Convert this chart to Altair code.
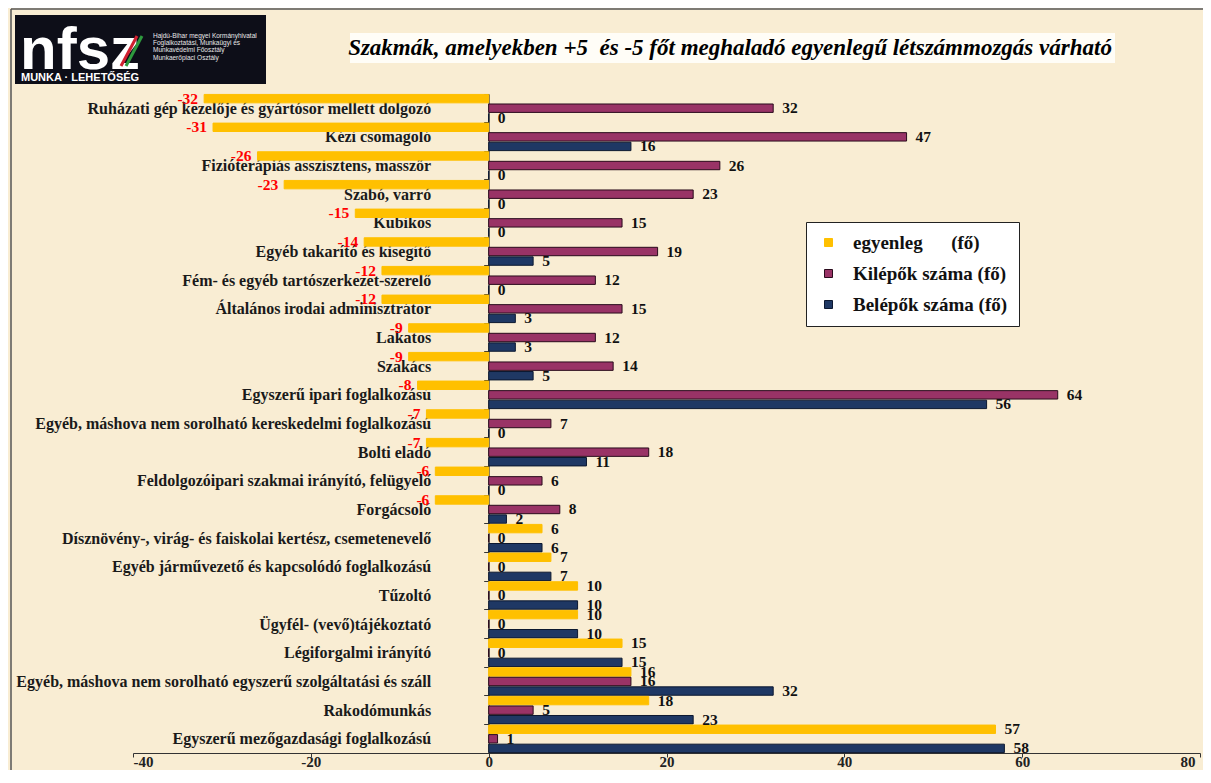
import altair as alt
import pandas as pd

categories = [
    "Ruházati gép kezelője és gyártósor mellett dolgozó",
    "Kézi csomagoló",
    "Fizióterápiás asszisztens, masszőr",
    "Szabó, varró",
    "Kubikos",
    "Egyéb takarító és kisegítő",
    "Fém- és egyéb tartószerkezet-szerelő",
    "Általános irodai adminisztrátor",
    "Lakatos",
    "Szakács",
    "Egyszerű ipari foglalkozású",
    "Egyéb, máshova nem sorolható kereskedelmi foglalkozású",
    "Bolti eladó",
    "Feldolgozóipari szakmai irányító, felügyelő",
    "Forgácsoló",
    "Dísznövény-, virág- és faiskolai kertész, csemetenevelő",
    "Egyéb járművezető és kapcsolódó foglalkozású",
    "Tűzoltó",
    "Ügyfél- (vevő)tájékoztató",
    "Légiforgalmi irányító",
    "Egyéb, máshova nem sorolható egyszerű szolgáltatási és száll",
    "Rakodómunkás",
    "Egyszerű mezőgazdasági foglalkozású",
]
egyenleg = [-32, -31, -26, -23, -15, -14, -12, -12, -9, -9, -8, -7, -7, -6, -6, 6, 7, 10, 10, 15, 16, 18, 57]
kilepok = [32, 47, 26, 23, 15, 19, 12, 15, 12, 14, 64, 7, 18, 6, 8, 0, 0, 0, 0, 0, 16, 5, 1]
belepok = [0, 16, 0, 0, 0, 5, 0, 3, 3, 5, 56, 0, 11, 0, 2, 6, 7, 10, 10, 15, 32, 23, 58]

series_names = ["egyenleg\u00a0\u00a0\u00a0\u00a0\u00a0\u00a0(fő)", "Kilépők száma (fő)", "Belépők száma (fő)"]
series_fill = ["#FFC000", "#993366", "#1F3864"]
series_stroke = ["#FFC000", "#2A0B1C", "#0C1830"]
x_ticks = [-40, -20, 0, 20, 40, 60, 80]

title_text = "Szakmák, amelyekben +5\u00a0 és -5 főt meghaladó egyenlegű létszámmozgás várható"
logo_big = "nfsz"
logo_sub = "MUNKA · LEHETŐSÉG"
logo_lines = ["Hajdú-Bihar megyei Kormányhivatal", "Foglalkoztatási, Munkaügyi és",
              "Munkavédelmi Főosztály", "Munkaerőpiaci Osztály"]

rows = []
for i, c in enumerate(categories):
    for s, vals in zip(series_names, [egyenleg, kilepok, belepok]):
        rows.append({"cat": c, "series": s, "value": vals[i], "label": str(vals[i])})
df = pd.DataFrame(rows)

W, H = 1067, 659
OX, OY = 133, 94  # page position of plot origin
ZERO_OFF = 40 / 120 * W

SERIF = "Liberation Serif"
SANS = "Liberation Sans"

xenc = alt.X("value:Q", scale=alt.Scale(domain=[-40, 80], nice=False, zero=False),
             axis=alt.Axis(title=None, values=x_ticks, labelExpr="'' + datum.value", grid=False,
                           domainColor="#333333", tickColor="#333333", tickSize=4,
                           labelPadding=9, labelBaseline="alphabetic",
                           labelOffset={"condition": {"test": "datum.value == 80", "value": -5}, "value": 0},
                           labelFont=SERIF, labelFontWeight="bold", labelFontSize=15, labelColor="#222222"))
yenc = alt.Y("cat:N", sort=categories, scale=alt.Scale(paddingInner=0.04, paddingOuter=0.015),
             axis=alt.Axis(title=None, offset=-ZERO_OFF, grid=False, domainColor="#333333",
                           tickColor="#333333", tickSize=5, tickBand="extent", labelPadding=53,
                           labelFont=SERIF, labelFontWeight="bold", labelFontSize=16,
                           labelColor="#1a1a1a", labelLimit=700))
yoff = alt.YOffset("series:N", sort=series_names, scale=alt.Scale(paddingInner=0.12))

leg = alt.Legend(title=None, orient="none", legendX=806 - OX, legendY=222 - OY,
                 fillColor="white", strokeColor="#222222", padding=11,
                 labelFont=SERIF, labelFontWeight="bold", labelFontSize=19, labelColor="#111111",
                 symbolType="square", symbolSize=64, symbolStrokeWidth=1, rowPadding=11,
                 symbolOffset=2, labelOffset=15, labelLimit=400)

base = alt.Chart(df)
bars = base.mark_bar(strokeWidth=1).encode(
    x=xenc, y=yenc, yOffset=yoff,
    color=alt.Color("series:N", sort=series_names,
                    scale=alt.Scale(domain=series_names, range=series_fill), legend=leg),
    stroke=alt.Stroke("series:N", sort=series_names,
                      scale=alt.Scale(domain=series_names, range=series_stroke), legend=leg),
)
neg_labels = base.transform_filter("datum.value < 0").mark_text(
    align="right", baseline="middle", dx=-6, color="#FF0000",
    font=SERIF, fontWeight="bold", fontSize=15.5).encode(x=xenc, y=yenc, yOffset=yoff, text="label:N")
pos_labels = base.transform_filter("datum.value >= 0").mark_text(
    align="left", baseline="middle", dx=9, color="#111111",
    font=SERIF, fontWeight="bold", fontSize=15.5).encode(x=xenc, y=yenc, yOffset=yoff, text="label:N")


def one(d):
    return alt.Chart(alt.Data(values=[d]))


def px(v):
    return v - OX


def py(v):
    return v - OY


frame_top = one({"a": 1}).mark_rule(color="#555555", strokeWidth=1.5).encode(
    x=alt.value(px(11)), x2=alt.value(px(1211)), y=alt.value(py(9)))
frame_left = one({"a": 1}).mark_rule(color="#555555", strokeWidth=1.5).encode(
    x=alt.value(px(11)), y=alt.value(py(9)), y2=alt.value(py(783)))

title_box = one({"a": 1}).mark_rect(color="#FFFDF7").encode(
    x=alt.value(px(350)), x2=alt.value(px(1115)), y=alt.value(py(33)), y2=alt.value(py(63)))
title = one({"t": title_text}).mark_text(
    font=SERIF, fontStyle="italic", fontWeight="bold", fontSize=23, color="#000000",
    align="center", baseline="middle").encode(x=alt.value(px(730)), y=alt.value(py(48)), text="t:N")

logo_box = one({"a": 1}).mark_rect(color="#0D0E18").encode(
    x=alt.value(px(15)), x2=alt.value(px(266)), y=alt.value(py(15)), y2=alt.value(py(84)))
logo_red = one({"a": 1}).mark_rule(color="#D02030", strokeWidth=3).encode(
    x=alt.value(px(121)), y=alt.value(py(66)), x2=alt.value(px(137)), y2=alt.value(py(36)))
logo_green = one({"a": 1}).mark_rule(color="#2E9A3E", strokeWidth=3).encode(
    x=alt.value(px(126)), y=alt.value(py(66)), x2=alt.value(px(142)), y2=alt.value(py(36)))
logo_t1 = one({"t": logo_big}).mark_text(
    font=SANS, fontWeight="bold", fontSize=60, color="white", align="left",
    baseline="alphabetic").encode(x=alt.value(px(20)), y=alt.value(py(69)), text="t:N")
logo_t2 = one({"t": logo_sub}).mark_text(
    font=SANS, fontWeight="bold", fontSize=11, color="white", align="left",
    baseline="alphabetic").encode(x=alt.value(px(21)), y=alt.value(py(81)), text="t:N")
logo_small = [
    one({"t": t}).mark_text(font=SANS, fontSize=6.5, color="#E8E8E8", align="left",
                            baseline="alphabetic").encode(
        x=alt.value(px(153)), y=alt.value(py(37.5 + 7.4 * k)), text="t:N")
    for k, t in enumerate(logo_lines)
]

chart = alt.layer(
    frame_top, frame_left, title_box, title, logo_box, logo_t1, logo_red, logo_green, logo_t2,
    *logo_small, bars, neg_labels, pos_labels
).properties(
    width=W, height=H,
    autosize=alt.AutoSizeParams(type="none"),
    padding={"left": 125, "top": 86, "right": 3, "bottom": 17},
    background="#F9EDD3",
).configure_view(stroke=None)

chart.save("out.html", embed_options={"renderer": "svg", "actions": False})
